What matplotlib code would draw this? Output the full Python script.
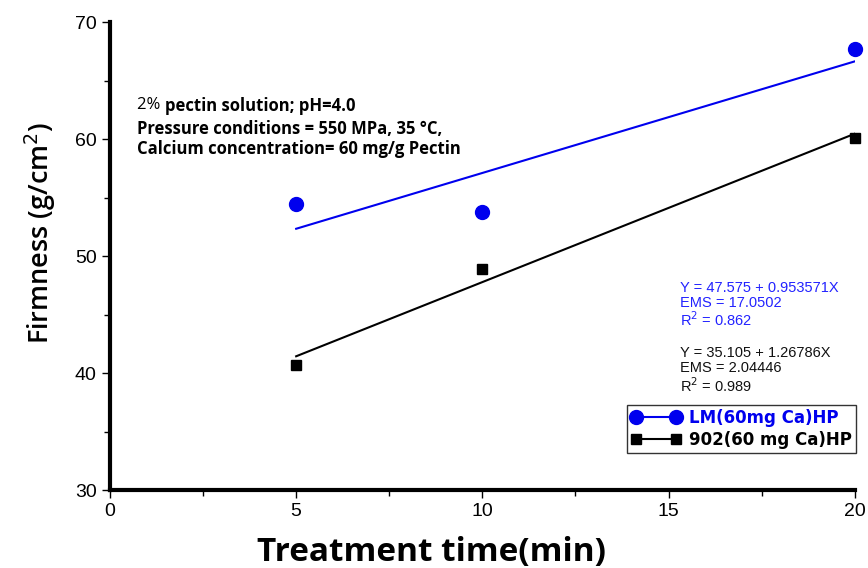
import matplotlib
matplotlib.use("Agg")
import matplotlib.pyplot as plt
import numpy as np
from matplotlib.ticker import MultipleLocator

# Data
time_min = [5, 10, 20]
lm_firmness = [54.5, 53.8, 67.7]
p902_firmness = [40.7, 48.9, 60.1]
lm_fit = (47.575, 0.953571)
p902_fit = (35.105, 1.26786)
fit_range = [5, 20]
lm_label = "LM(60mg Ca)HP"
p902_label = "902(60 mg Ca)HP"

fig = plt.figure(figsize=(8.68, 5.68), dpi=100)
ax = fig.add_axes([0.1267, 0.137, 0.858, 0.824])

blue = "#0000ee"
xf = np.array(fit_range, dtype=float)
ax.plot(xf, lm_fit[0] + lm_fit[1] * xf, color=blue, lw=1.5)
ax.plot(xf, p902_fit[0] + p902_fit[1] * xf, color="black", lw=1.5)
ax.plot(time_min, lm_firmness, "o", color=blue, ms=10, clip_on=False, zorder=5)
ax.plot(time_min, p902_firmness, "s", color="black", ms=6.5, clip_on=False, zorder=5)

ax.set_xlim(0, 20)
ax.set_ylim(30, 70)
ax.xaxis.set_major_locator(MultipleLocator(5))
ax.xaxis.set_minor_locator(MultipleLocator(2.5))
ax.yaxis.set_major_locator(MultipleLocator(10))
ax.yaxis.set_minor_locator(MultipleLocator(5))
for s in ["top", "right"]:
    ax.spines[s].set_visible(False)
for s in ["left", "bottom"]:
    ax.spines[s].set_linewidth(3)
ax.tick_params(which="major", direction="out", length=6, width=1)
ax.tick_params(which="minor", direction="out", length=4, width=1)
for lab in ax.get_xticklabels() + ax.get_yticklabels():
    lab.set_fontfamily(["Liberation Sans Narrow", "Liberation Sans"])
    lab.set_fontsize(14)

ax.set_xlabel("Treatment time(min)", fontfamily="Open Sans", fontweight="bold", fontsize=24)
ax.xaxis.set_label_coords(0.432, -0.097)
ax.set_ylabel("Firmness (g/cm$^2$)", fontfamily="Open Sans", fontweight="semibold", fontsize=19.5)
ax.yaxis.set_label_coords(-0.07, 0.549)

t1 = ax.text(0.036, 0.841, "2% ", transform=ax.transAxes, fontfamily="Open Sans", fontsize=12, va="top")
ax.annotate("pectin solution; pH=4.0", xy=(1, 1), xycoords=t1, va="top", ha="left",
            fontfamily="Open Sans", fontweight="bold", fontsize=12)
ax.text(0.036, 0.792, "Pressure conditions = 550 MPa, 35 °C,\nCalcium concentration= 60 mg/g Pectin",
        transform=ax.transAxes, fontfamily="Open Sans", fontweight="bold", fontsize=12, va="top",
        linespacing=1.15)

ax.text(0.765, 0.446, "Y = 47.575 + 0.953571X\nEMS = 17.0502\nR$^2$ = 0.862", transform=ax.transAxes,
        fontfamily="Liberation Sans", fontsize=10.5, color="#2222ff", va="top", linespacing=1.05)
ax.text(0.765, 0.307, "Y = 35.105 + 1.26786X\nEMS = 2.04446\nR$^2$ = 0.989", transform=ax.transAxes,
        fontfamily="Liberation Sans", fontsize=10.5, color="#111111", va="top", linespacing=1.05)

h1, = ax.plot([], [], "-o", color=blue, ms=10, lw=1.5)
h2, = ax.plot([], [], "-s", color="black", ms=6.5, lw=1.5)
leg = ax.legend([h1, h2], [lm_label, p902_label], loc="lower right", bbox_to_anchor=(1.002, 0.08),
                numpoints=2, handlelength=3.0, frameon=True, fancybox=False, edgecolor="black",
                prop={"family": "DejaVu Sans", "weight": "bold", "size": 12},
                borderpad=0.25, labelspacing=0.2, handletextpad=0.5, borderaxespad=0)
leg.get_frame().set_linewidth(1)
leg.get_texts()[0].set_color(blue)

fig.savefig("out.png", dpi=100)
